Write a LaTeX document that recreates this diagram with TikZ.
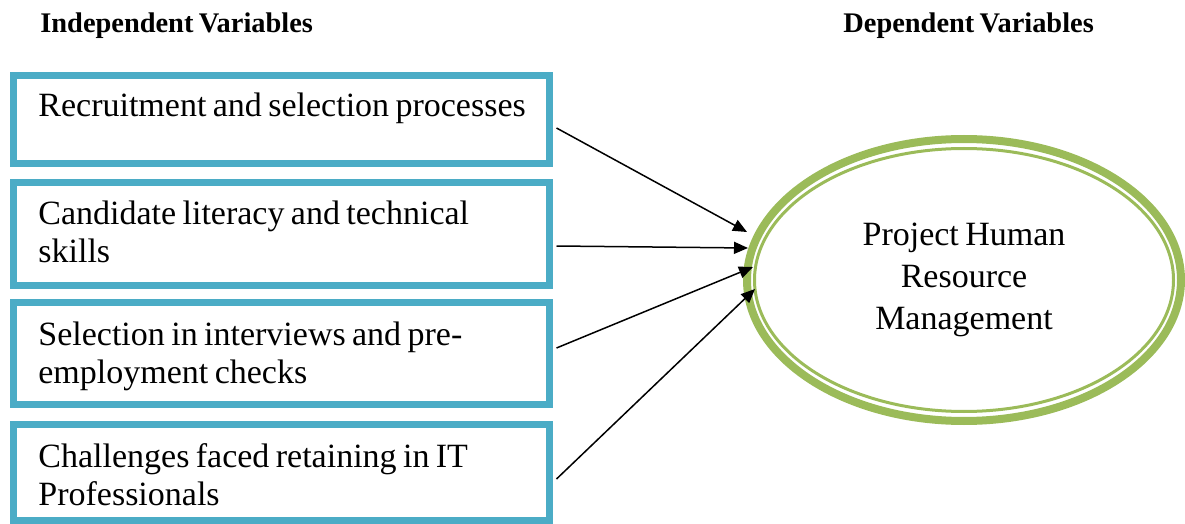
\documentclass[tikz,border=0pt]{standalone}
\usepackage{fontspec}
\setmainfont[WordSpace=0.75]{Liberation Serif}
\usepackage{xcolor}
\usetikzlibrary{arrows.meta,shapes.geometric}
\definecolor{boxblue}{HTML}{4BACC6}
\definecolor{ovalgreen}{HTML}{9BBB59}

\begin{document}
\begin{tikzpicture}[x=0.5pt, y=-0.5pt,
  varbox/.style={draw=boxblue, line width=3.5pt, minimum width=268pt, inner sep=0pt},
  vartext/.style={anchor=base west, inner sep=0pt, text width=270pt, align=flush left,
    font=\fontsize{17}{19}\selectfont},
  heading/.style={anchor=base west, inner sep=0pt, font=\fontsize{14.2}{17}\selectfont\bfseries},
  link/.style={line width=0.75pt, -{Triangle[length=7pt,width=6pt]}}]
\useasboundingbox (0,0) rectangle (1185,524);

\node[heading] (indep) at (40,33) {Independent Variables};
\node[heading] (dep) at (843,33) {Dependent Variables};

\node[varbox, minimum height=44pt] (rec) at (281.5,119.5) {};
\node[varbox, minimum height=51.5pt] (lit) at (281.5,234) {};
\node[varbox, minimum height=51pt] (sel) at (281.5,353.5) {};
\node[varbox, minimum height=48pt] (ret) at (281.5,472.5) {};

\node[vartext] (rectext) at (38,117) {Recruitment and selection processes};
\node[vartext] (littext) at (38,225) {Candidate literacy and technical\\skills};
\node[vartext] (seltext) at (38,345) {Selection in interviews and pre-\\employment checks};
\node[vartext] (rettext) at (38,467) {Challenges faced retaining in IT\\Professionals};

\node[ellipse, draw=ovalgreen, line width=4pt, minimum width=217pt, minimum height=141pt,
  inner sep=0pt, align=center, font=\fontsize{17}{21}\selectfont] (phrm) at (964,280)
  {Project Human\\Resource\\Management};
\draw[ovalgreen, line width=1.5pt] (phrm.center) ellipse [x radius=209.5, y radius=131.5];

\draw[link] ([shift={(3.5,8.5)}]rec.east) -- ([shift={(-217,-48)}]phrm.center);
\draw[link] ([shift={(3.5,12)}]lit.east) -- ([shift={(-216,-32)}]phrm.center);
\draw[link] ([shift={(3.5,-5.5)}]sel.east) -- ([shift={(-211,-13)}]phrm.center);
\draw[link] ([shift={(3.5,6.5)}]ret.east) -- ([shift={(-209,9)}]phrm.center);
\end{tikzpicture}
\end{document}
